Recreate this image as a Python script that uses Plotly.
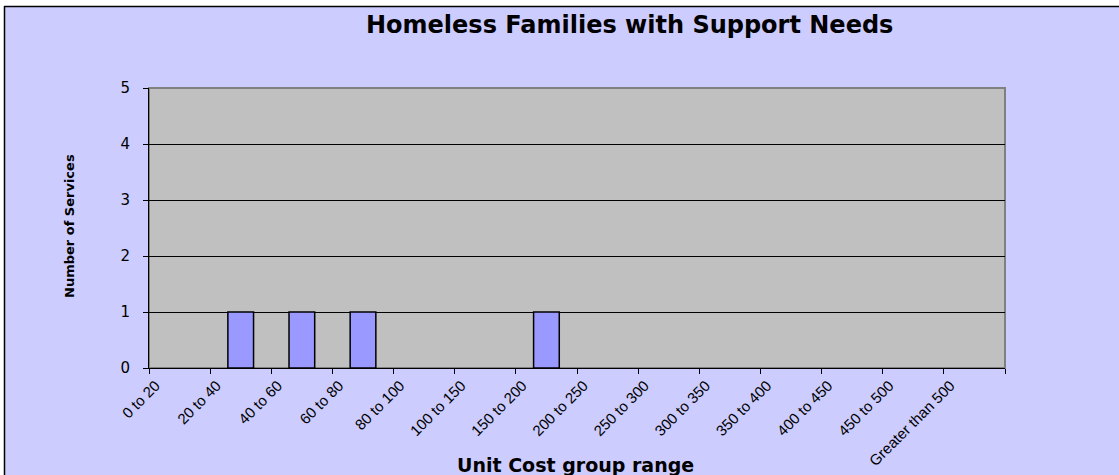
import plotly.graph_objects as go

# Unit cost bands and number of services in each band
cost_ranges = [
    "0 to 20", "20 to 40", "40 to 60", "60 to 80", "80 to 100",
    "100 to 150", "150 to 200", "200 to 250", "250 to 300", "300 to 350",
    "350 to 400", "400 to 450", "450 to 500", "Greater than 500",
]
service_counts = [0, 1, 1, 1, 0, 0, 1, 0, 0, 0, 0, 0, 0, 0]
y_ticks = [0, 1, 2, 3, 4, 5]

W, H = 1119, 475
L, R, T, B = 149, 1005, 88, 368  # plot area edges in pixels


def px_x(p):
    return (p - L) / (R - L)


def px_y(p):
    return (B - p) / (B - T)


LAVENDER = "#CCCCFF"
FONT = "DejaVu Sans"
TICK_FONT = "Liberation Sans, Arial, sans-serif"

# empty bands get no outline so nothing is drawn along the baseline
outline_widths = [1.5 if v > 0 else 0 for v in service_counts]

fig = go.Figure(
    go.Bar(
        x=cost_ranges,
        y=service_counts,
        marker=dict(color="#9999FF", line=dict(color="#000000", width=outline_widths)),
        hoverinfo="x+y",
    )
)

shapes = [
    # white margin strips outside the chart frame
    dict(type="rect", xref="paper", yref="paper", x0=px_x(-10), x1=px_x(W + 10),
         y0=px_y(6), y1=px_y(-10), fillcolor="#FFFFFF", line_width=0, layer="below"),
    dict(type="rect", xref="paper", yref="paper", x0=px_x(-10), x1=px_x(4),
         y0=px_y(H + 10), y1=px_y(-10), fillcolor="#FFFFFF", line_width=0, layer="below"),
    # chart frame
    dict(type="line", xref="paper", yref="paper", x0=px_x(4), x1=px_x(W + 10),
         y0=px_y(6.5), y1=px_y(6.5), line=dict(color="#000000", width=1.5)),
    dict(type="line", xref="paper", yref="paper", x0=px_x(4.5), x1=px_x(4.5),
         y0=px_y(6), y1=px_y(H + 10), line=dict(color="#000000", width=1.5)),
    # plot area border
    dict(type="rect", xref="paper", yref="paper", x0=0, x1=1, y0=0, y1=1,
         line=dict(color="#808080", width=2), fillcolor="rgba(0,0,0,0)", layer="below"),
]

fig.update_layout(
    width=W,
    height=H,
    margin=dict(l=L, r=W - R, t=T, b=H - B, pad=0, autoexpand=False),
    paper_bgcolor=LAVENDER,
    plot_bgcolor="#C0C0C0",
    bargap=0.58,
    showlegend=False,
    font=dict(family=FONT, color="#000000"),
    shapes=shapes,
    annotations=[
        dict(text="<b>Homeless Families with Support Needs</b>", xref="paper", yref="paper",
             x=px_x(629), y=px_y(25), xanchor="center", yanchor="middle",
             showarrow=False, font=dict(family=FONT, size=24, color="#000000")),
        dict(text="<b>Unit Cost group range</b>", xref="paper", yref="paper",
             x=px_x(575), y=px_y(465), xanchor="center", yanchor="middle",
             showarrow=False, font=dict(family=FONT, size=19, color="#000000")),
        dict(text="<b>Number of Services</b>", xref="paper", yref="paper",
             x=px_x(69), y=px_y(226), xanchor="center", yanchor="middle",
             textangle=-90, showarrow=False,
             font=dict(family=FONT, size=13, color="#000000")),
    ],
)

fig.update_xaxes(
    type="category",
    automargin=False,
    tickson="boundaries",
    ticks="outside",
    ticklen=5,
    tickcolor="#000000",
    tickwidth=1,
    tickangle=-45,
    ticklabelshift=-24,
    ticklabelstandoff=2,
    tickfont=dict(family=TICK_FONT, size=15, color="#000000"),
    showline=True,
    linecolor="#000000",
    linewidth=1,
    showgrid=False,
    zeroline=False,
)

fig.update_yaxes(
    range=[0, 5],
    automargin=False,
    tickvals=y_ticks,
    ticks="outside",
    ticklen=5,
    tickcolor="#000000",
    tickwidth=1,
    ticklabelstandoff=10,
    tickfont=dict(family=FONT, size=15, color="#000000"),
    showline=True,
    linecolor="#000000",
    linewidth=1,
    showgrid=True,
    gridcolor="#000000",
    gridwidth=1,
    zeroline=False,
)

fig.write_html("out.html")
